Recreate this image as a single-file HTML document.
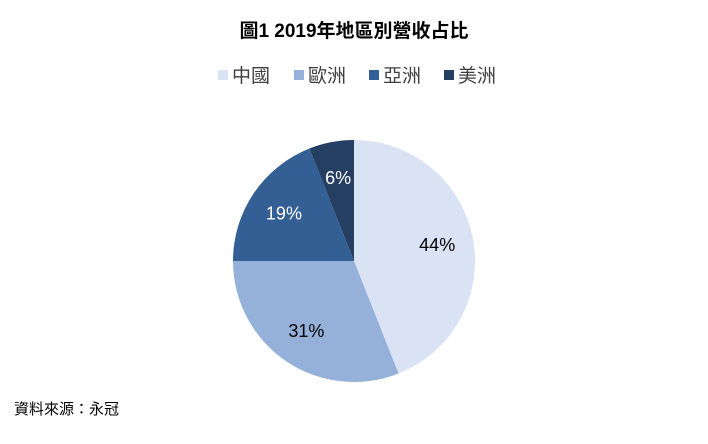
<!DOCTYPE html>
<html><head><meta charset="utf-8"><style>
body{margin:0;background:#fff;width:708px;height:439px;overflow:hidden}
text{font-family:"Liberation Sans","Noto Sans CJK TC",sans-serif}
</style></head><body>
<svg width="708" height="439">
<text x="354" y="37" text-anchor="middle" font-size="19" font-weight="bold" fill="#000">圖1 2019年地區別營收占比</text>
<g id="legend"></g>
<g id="slices"></g>
<text x="14" y="414" font-size="15" fill="#000">資料來源：永冠</text>
</svg>
<script>
const categories=["中國","歐洲","亞洲","美洲"];
const values=[44,31,19,6];
const colors=["#dae3f3","#95b1d9","#335f95","#243f62"];
const labelColors=["#000","#000","#fff","#fff"];
const NS="http://www.w3.org/2000/svg";
const cx=354,cy=261,r=121;
const g=document.getElementById("slices");
const total=values.reduce((a,b)=>a+b,0);
let a0=0;
function pt(a,rr){return [cx+rr*Math.sin(a),cy-rr*Math.cos(a)];}
values.forEach((v,i)=>{
  const a1=a0+v/total*2*Math.PI;
  const p0=pt(a0,r),p1=pt(a1,r);
  const path=document.createElementNS(NS,"path");
  path.setAttribute("d",`M${cx},${cy}L${p0[0]},${p0[1]}A${r},${r} 0 ${a1-a0>Math.PI?1:0} 1 ${p1[0]},${p1[1]}Z`);
  path.setAttribute("fill",colors[i]);
  
  
  g.appendChild(path);
  const m=(a0+a1)/2;const lp=pt(m,r*0.7);
  const t=document.createElementNS(NS,"text");
  t.setAttribute("x",lp[0]);t.setAttribute("y",lp[1]+6);
  t.setAttribute("text-anchor","middle");t.setAttribute("font-size","18");
  t.setAttribute("fill",labelColors[i]);
  t.textContent=v+"%";
  
  
  g.appendChild(t);
  a0=a1;
});
const lg=document.getElementById("legend");
const lx=[218,294,369,444];
categories.forEach((c,i)=>{
  const rc=document.createElementNS(NS,"rect");
  rc.setAttribute("x",lx[i]);rc.setAttribute("y",70);rc.setAttribute("width",10);rc.setAttribute("height",10);
  rc.setAttribute("fill",colors[i]);
  
  
  lg.appendChild(rc);
  const t=document.createElementNS(NS,"text");
  t.setAttribute("x",lx[i]+14);t.setAttribute("y",82);t.setAttribute("font-size","19");t.setAttribute("fill","#404040");
  t.textContent=c;
  
  
  lg.appendChild(t);
});
</script>
</body></html>
